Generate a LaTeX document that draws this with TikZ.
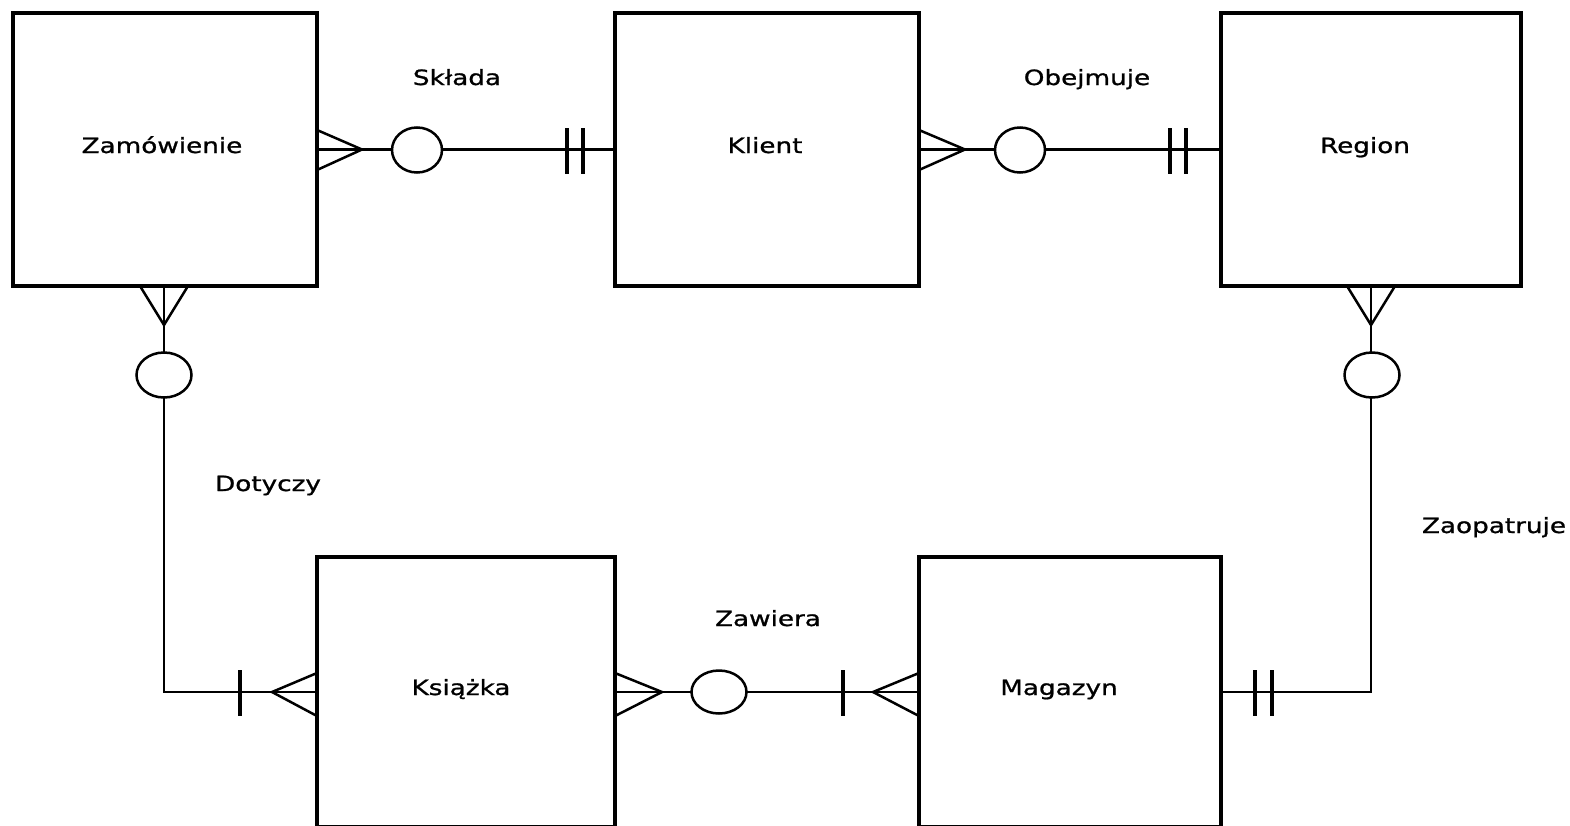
\documentclass[tikz,border=0pt]{standalone}
\usepackage{fontspec}
\newfontfamily\lblfont[FakeStretch=1.25,FakeBold=1]{DejaVu Sans}
\usetikzlibrary{shapes.geometric}
\begin{document}
\begin{tikzpicture}[x=1pt,y=-1pt,
  entity/.style={draw,line width=3.5pt,rectangle,inner sep=0pt,outer sep=0pt},
  conn/.style={line width=2.5pt},
  crow/.style={line width=2.5pt},
  bar/.style={line width=3.5pt},
  opt/.style={draw,line width=2.5pt,ellipse,fill=white,inner sep=0pt,minimum width=50pt,minimum height=45pt},
  lbl/.style={font=\lblfont\fontsize{21}{25}\selectfont,anchor=base,inner sep=0pt}
]
\useasboundingbox (0,0) rectangle (1570,825);
\clip (0,0) rectangle (1570,825);
\fill[white] (0,0) rectangle (1570,825);

% entities
\node[entity,minimum width=304pt,minimum height=273pt] (zam) at (165,149.5) {};
\node[entity,minimum width=304pt,minimum height=273pt] (kli) at (767,149.5) {};
\node[entity,minimum width=300pt,minimum height=273pt] (reg) at (1371,149.5) {};
\node[entity,minimum width=298pt,minimum height=270pt] (ksi) at (466,692) {};
\node[entity,minimum width=302pt,minimum height=270pt] (mag) at (1070,692) {};

% connectors
\draw[conn] (zam.east) -- (kli.west);
\draw[conn] (kli.east) -- (reg.west);
\draw[conn] (zam.south -| 164,0) |- (ksi.west);
\draw[conn] (reg.south) |- (mag.east);
\draw[conn] (ksi.east) -- (mag.west);

% crow's feet
\draw[crow] (317,130) -- (362,149.5) -- (317,170);
\draw[crow] (919,130) -- (965,149.5) -- (919,170);
\draw[crow] (140,286) -- (164,325) -- (188,286);
\draw[crow] (1347,286) -- (1371,325) -- (1395,286);
\draw[crow] (317,673) -- (272,692) -- (317,716);
\draw[crow] (615,673) -- (662,692) -- (615,716);
\draw[crow] (919,673) -- (873,692) -- (919,716);

% bars
\draw[bar] (567,128) -- (567,174);
\draw[bar] (583,128) -- (583,174);
\draw[bar] (1170,128) -- (1170,174);
\draw[bar] (1186,128) -- (1186,174);
\draw[bar] (240,670) -- (240,716);
\draw[bar] (843,670) -- (843,716);
\draw[bar] (1255,670) -- (1255,716);
\draw[bar] (1272,670) -- (1272,716);

% optional circles
\node[opt] (o1) at (417,150) {};
\node[opt] (o2) at (1020,150) {};
\node[opt,minimum width=55pt] (o3) at (164,375) {};
\node[opt,minimum width=55pt] (o4) at (1372,375) {};
\node[opt,minimum width=55pt,minimum height=43pt] (o5) at (719,692) {};

% labels
\node[lbl] (tzam) at (162,153) {Zamówienie};
\node[lbl] (tkli) at (765,153) {Klient};
\node[lbl] (treg) at (1365,153) {Region};
\node[lbl] (tksi) at (461,695) {Książka};
\node[lbl] (tmag) at (1059,695) {Magazyn};
\node[lbl] (tskl) at (457,85) {Składa};
\node[lbl] (tobe) at (1087,85) {Obejmuje};
\node[lbl] (tdot) at (268,491) {Dotyczy};
\node[lbl] (tzao) at (1494,533) {Zaopatruje};
\node[lbl] (tzaw) at (768,626) {Zawiera};
\end{tikzpicture}
\end{document}
